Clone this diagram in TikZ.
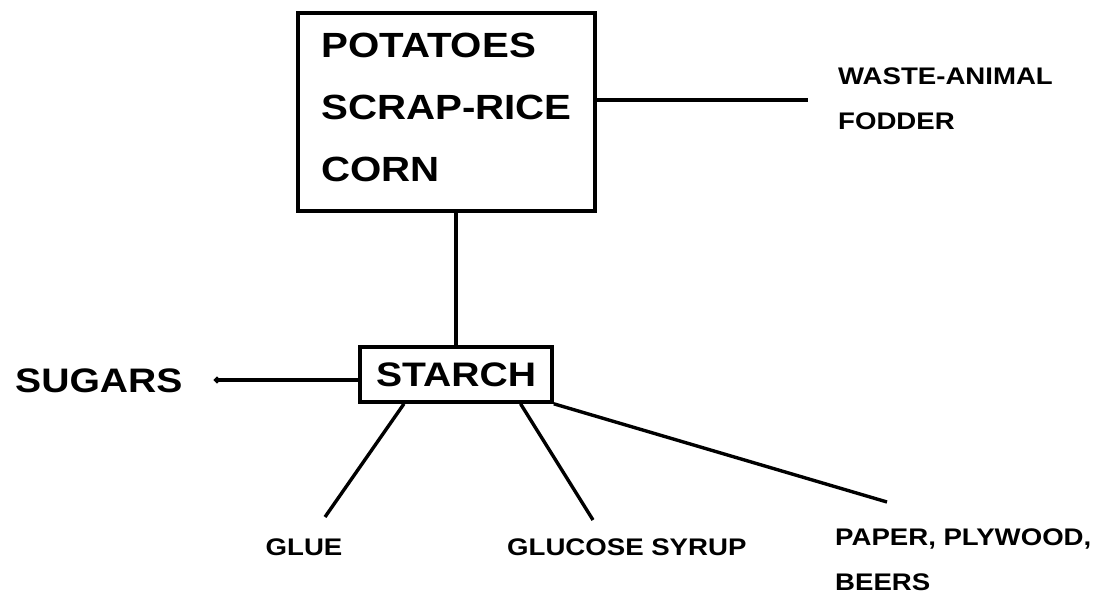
\documentclass[tikz,border=0pt]{standalone}
\usepackage{fontspec}
\setmainfont{Liberation Sans}[FakeStretch=1.15]
\usetikzlibrary{calc,arrows.meta}

\begin{document}
\begin{tikzpicture}[x=1pt,y=-1pt]
    \tikzset{every node/.style={font=\bfseries,inner sep=0pt}}
    \tikzset{link/.style={line width=3.4pt},bigbox/.style={draw,line width=3.6pt},biglabel/.style={font=\fontsize{35}{62}\selectfont\bfseries},smalllabel/.style={font=\fontsize{24}{45}\selectfont\bfseries,align=left}}
    \useasboundingbox (0,0) rectangle (1099,601);
    \node[bigbox,minimum width=297pt,minimum height=198pt,biglabel,align=left] (crops) at (446.5,112) {POTATOES\\SCRAP-RICE\\CORN\rule[-10pt]{0pt}{10pt}};
    \node[bigbox,minimum width=192pt,minimum height=55pt,font=\fontsize{34}{40}\selectfont\bfseries] (starch) at (456,374.5) {STARCH};
    \node[font=\fontsize{34}{40}\selectfont\bfseries,anchor=base west] (sugars) at (15,392) {SUGARS};
    \node[smalllabel,anchor=base west] (waste) at (838,130) {WASTE-ANIMAL\\FODDER};
    \node[smalllabel,anchor=base] (glue) at (304,555) {GLUE};
    \node[smalllabel,anchor=base west] (glucose) at (507,555) {GLUCOSE SYRUP};
    \node[smalllabel,anchor=base west] (paper) at (835,590) {PAPER, PLYWOOD,\\BEERS};
    \coordinate (wasteend) at (808,100);
    \coordinate (sugarsend) at (214,380);
    \coordinate (glueend) at (325,517);
    \coordinate (glucoseend) at (593,520);
    \coordinate (paperend) at (887,502);
    \draw[link] (starch.north) -- (starch.north |- crops.south);
    \draw[link] (crops.east |- wasteend) -- (wasteend);
    \draw[link,{Circle[length=6pt]}-] (sugarsend) -- (starch.west |- sugarsend);
    \draw[link] ($(starch.south west)!0.234!(starch.south east)$) -- (glueend);
    \draw[link] ($(starch.south west)!0.83!(starch.south east)$) -- (glucoseend);
    \draw[link] (starch.south east) -- (paperend);
\end{tikzpicture}
\end{document}
